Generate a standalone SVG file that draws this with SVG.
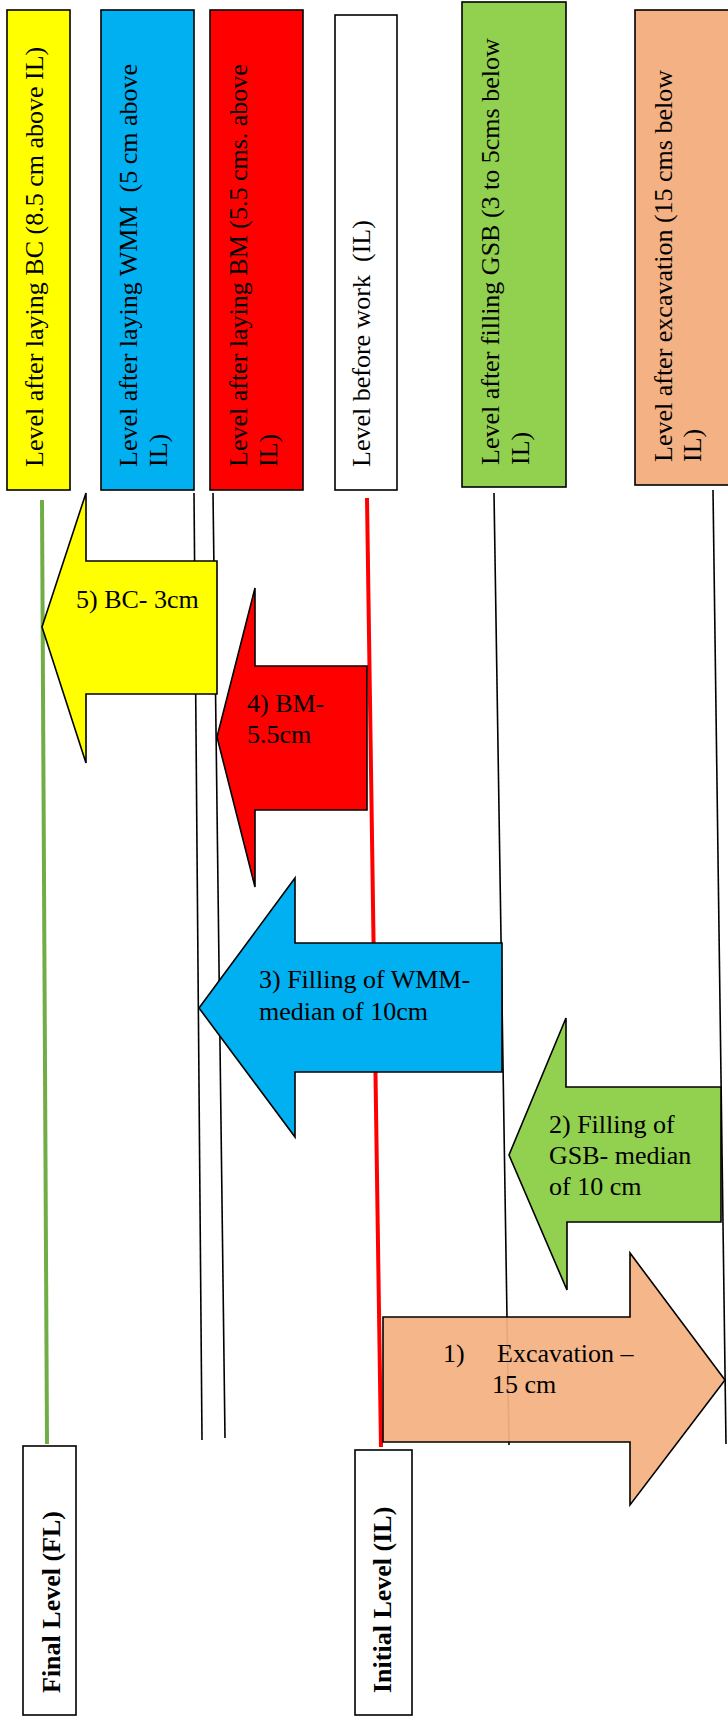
<svg xmlns="http://www.w3.org/2000/svg" width="728" height="1722" viewBox="0 0 728 1722">
<style>
.box{stroke:#000;stroke-width:1.6}
.arr{stroke:#000;stroke-width:1.6;stroke-linejoin:miter}
.t{font-family:"Liberation Serif","Times New Roman",serif;font-size:26px;fill:#000}
.tb{font-family:"Liberation Serif","Times New Roman",serif;font-size:26px;font-weight:bold;fill:#000}
.ln{stroke:#000;stroke-width:1.6;fill:none}
</style>
<rect width="728" height="1722" fill="#fff"/>
<g id="connectors">
<line id="fl-line" x1="42" y1="500" x2="47" y2="1444" stroke="#70AD47" stroke-width="4"/>
<line id="wmm-line" class="ln" x1="194" y1="493" x2="202" y2="1440"/>
<line id="bm-line" class="ln" x1="213" y1="493" x2="225" y2="1438"/>
<line id="il-line" x1="367" y1="498" x2="381" y2="1447" stroke="#FF0000" stroke-width="4"/>
<line id="gsb-line" class="ln" x1="494" y1="493" x2="509" y2="1445"/>
<line id="exc-line" class="ln" x1="713" y1="490" x2="726" y2="1444"/>
</g>
<g id="box-bc">
<rect class="box" x="7" y="10" width="63" height="480" fill="#FFFF00"/>
<text class="t" transform="translate(43,467) rotate(-90)">Level after laying BC (8.5 cm above IL)</text>
</g>
<g id="box-wmm">
<rect class="box" x="101" y="10" width="93" height="480" fill="#00B0F0"/>
<text class="t" xml:space="preserve" transform="translate(137,467) rotate(-90)">Level after laying WMM  (5 cm above</text>
<text class="t" transform="translate(167,467) rotate(-90)">IL)</text>
</g>
<g id="box-bm">
<rect class="box" x="210" y="10" width="93" height="480" fill="#FF0000"/>
<text class="t" transform="translate(247,467) rotate(-90)">Level after laying BM (5.5 cms. above</text>
<text class="t" transform="translate(277,467) rotate(-90)">IL)</text>
</g>
<g id="box-il-top">
<rect class="box" x="335" y="15" width="62" height="475" fill="#FFFFFF"/>
<text class="t" xml:space="preserve" transform="translate(370,467) rotate(-90)">Level before work  (IL)</text>
</g>
<g id="box-gsb">
<rect class="box" x="462" y="2" width="104" height="485" fill="#92D050"/>
<text class="t" transform="translate(499,465) rotate(-90)">Level after filling GSB (3 to 5cms below</text>
<text class="t" transform="translate(529,465) rotate(-90)">IL)</text>
</g>
<g id="box-exc">
<rect class="box" x="635" y="10" width="96" height="475" fill="#F4B183"/>
<text class="t" transform="translate(672,462) rotate(-90)">Level after excavation (15 cms below</text>
<text class="t" transform="translate(701,462) rotate(-90)">IL)</text>
</g>
<g id="arrow-bc">
<polygon class="arr" fill="#FFFF00" points="217,561 86,561 86,493 42,627 86,763 86,694 217,694"/>
<text class="t" x="76" y="608">5) BC- 3cm</text>
</g>
<g id="arrow-bm">
<polygon class="arr" fill="#FF0000" points="367,666 255,666 255,588 217,737 255,887 255,810 367,810"/>
<text class="t" x="247" y="712">4) BM-</text>
<text class="t" x="247" y="743">5.5cm</text>
</g>
<g id="arrow-wmm">
<polygon class="arr" fill="#00B0F0" points="502,943 295,943 295,878 199,1008 295,1137 295,1072 502,1072"/>
<text class="t" x="259" y="988">3) Filling of WMM-</text>
<text class="t" x="259" y="1020">median of 10cm</text>
</g>
<g id="arrow-gsb">
<polygon class="arr" fill="#92D050" points="721,1087 566,1087 566,1018 509,1155 567,1290 567,1222 721,1222"/>
<text class="t" x="549" y="1133">2) Filling of</text>
<text class="t" x="549" y="1164">GSB- median</text>
<text class="t" x="549" y="1195">of 10 cm</text>
</g>
<g id="arrow-exc">
<polygon class="arr" fill="#F4B183" fill-opacity="0.94" points="383,1317 630,1317 630,1253 725,1380 630,1505 630,1442 383,1442"/>
<text class="t" x="443" y="1362">1)</text>
<text class="t" x="497" y="1362">Excavation –</text>
<text class="t" x="492" y="1393">15 cm</text>
</g>
<g id="box-fl">
<rect class="box" x="23" y="1446" width="53" height="269" fill="#FFFFFF"/>
<text class="tb" transform="translate(60,1693) rotate(-90)">Final Level (FL)</text>
</g>
<g id="box-il">
<rect class="box" x="355" y="1450" width="57" height="265" fill="#FFFFFF"/>
<text class="tb" transform="translate(391,1693) rotate(-90)">Initial Level (IL)</text>
</g>
</svg>
